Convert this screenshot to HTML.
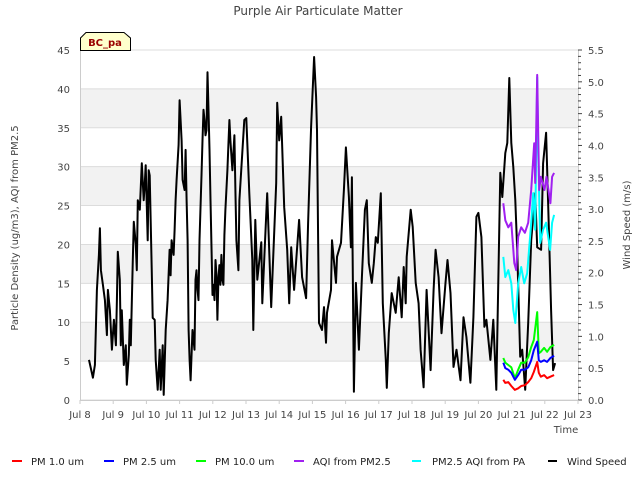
<!DOCTYPE html>
<html><head><meta charset="utf-8"><style>
body{margin:0;background:#fff;}
svg{font-family:"DejaVu Sans","Liberation Sans",sans-serif;}
</style></head><body>
<svg id="chart" width="640" height="480" xmlns="http://www.w3.org/2000/svg"></svg>
<script>
// Data (days since Jul 8 00:00)
const windTimes=[.27,.39,.45,.51,.57,.60,.63,.69,.75,.81,.84,.90,.96,1.02,1.08,1.11,1.14,1.20,1.23,1.26,1.32,1.38,1.41,1.47,1.50,1.53,1.59,1.62,1.68,1.71,1.74,1.80,1.86,1.92,1.95,1.98,2.04,2.07,2.10,2.16,2.19,2.25,2.28,2.34,2.40,2.43,2.49,2.52,2.58,2.64,2.70,2.73,2.76,2.82,2.85,2.88,2.91,2.97,3.00,3.03,3.06,3.09,3.15,3.18,3.21,3.24,3.27,3.30,3.33,3.39,3.45,3.48,3.51,3.54,3.57,3.60,3.66,3.69,3.72,3.75,3.78,3.81,3.84,3.87,3.90,3.93,3.99,4.02,4.05,4.08,4.11,4.14,4.17,4.20,4.23,4.26,4.29,4.32,4.35,4.38,4.41,4.44,4.47,4.50,4.53,4.59,4.65,4.68,4.71,4.77,4.80,4.95,5.01,5.04,5.10,5.19,5.22,5.28,5.34,5.46,5.49,5.61,5.64,5.76,5.91,5.94,6.00,6.06,6.15,6.24,6.30,6.36,6.45,6.60,6.69,6.81,6.87,6.96,7.05,7.11,7.14,7.20,7.29,7.35,7.41,7.44,7.56,7.59,7.71,7.74,7.86,7.95,8.01,8.10,8.16,8.19,8.25,8.31,8.40,8.49,8.58,8.64,8.70,8.79,8.85,8.91,8.97,9.06,9.12,9.21,9.24,9.30,9.39,9.51,9.60,9.69,9.75,9.81,9.84,9.96,10.02,10.11,10.20,10.26,10.35,10.44,10.56,10.65,10.71,10.80,10.89,11.01,11.07,11.16,11.25,11.34,11.46,11.55,11.64,11.76,11.85,11.94,12.00,12.09,12.18,12.24,12.36,12.45,12.54,12.66,12.72,12.81,12.87,12.93,12.99,13.05,13.11,13.17,13.26,13.32,13.41,13.50,13.59,13.71,13.77,13.89,13.95,14.04,14.13,14.19,14.25,14.31];
const windSpeed=[.63,.35,.55,1.73,2.28,2.70,2.04,1.81,1.57,1.02,1.73,1.41,.79,1.26,.86,1.57,2.33,1.89,.86,1.41,.55,.86,.24,.71,1.26,.86,2.20,2.80,2.44,2.04,3.14,2.99,3.72,3.14,3.38,3.69,2.51,3.61,3.53,2.07,1.29,1.26,.63,.16,.79,.16,.86,.08,1.10,1.57,2.36,1.96,2.51,2.28,2.67,3.14,3.46,4.01,4.71,4.40,4.08,3.46,3.30,3.93,3.14,2.51,1.10,.63,.31,1.10,.79,1.89,2.04,1.73,1.57,2.51,3.53,4.08,4.56,4.40,4.16,4.24,5.15,4.56,3.93,3.14,1.65,1.81,1.57,2.20,1.96,1.26,1.89,2.12,1.81,2.28,1.89,1.81,2.59,2.99,3.30,3.61,4.01,4.40,4.08,3.61,4.16,3.30,2.51,2.04,3.14,4.40,4.43,4.04,3.25,2.20,1.10,2.83,1.89,2.48,1.52,2.94,3.25,1.46,3.41,4.67,4.08,4.45,3.03,2.36,1.52,2.40,1.73,2.83,1.93,1.60,2.78,4.29,5.39,4.76,4.24,1.21,1.10,1.46,.90,1.37,1.73,2.51,1.84,2.25,2.47,3.30,3.97,3.19,2.40,3.50,.13,1.84,.79,1.93,2.99,3.14,2.15,1.84,2.15,2.56,2.47,3.25,1.52,.63,.19,1.05,1.68,1.37,1.93,1.30,2.09,1.52,2.25,2.99,2.72,1.84,1.52,.79,.20,1.73,.47,1.73,2.36,1.93,1.05,1.84,2.20,1.68,.52,.79,.31,1.30,.99,.27,1.30,2.88,2.94,2.56,1.15,1.26,.63,1.26,.16,3.57,3.19,3.88,4.04,5.06,4.04,3.66,3.14,2.36,.68,.79,.16,1.21,2.51,3.25,2.40,2.36,3.72,4.20,2.56,1.41,.47,.58];
const pmTimes=[12.75,12.81,12.90,12.99,13.10,13.20,13.29,13.40,13.50,13.59,13.67,13.77,13.82,13.88,13.98,14.07,14.17,14.28];
const pm10=[5.4,4.8,4.5,4.2,2.8,3.9,4.8,4.8,5.5,6.8,7.7,11.3,6.0,6.2,6.7,6.2,6.8,7.1];
const pm25=[4.8,4.1,3.9,3.5,2.6,3.2,3.9,3.9,4.2,5.1,6.4,7.5,5.1,4.9,5.1,4.9,5.4,5.7];
const pm1=[2.6,2.2,2.3,1.8,1.3,1.5,1.8,1.9,2.3,2.8,3.6,4.9,3.5,3.0,3.2,2.8,3.0,3.2];
const aqiTimes=[12.75,12.81,12.90,12.99,13.08,13.14,13.20,13.29,13.40,13.50,13.59,13.68,13.71,13.77,13.83,13.88,13.99,14.05,14.17,14.22,14.28];
const aqiPM25=[25.3,23.1,22.2,22.8,17.6,16.7,21.0,22.2,21.5,22.8,27.0,33.0,27.9,41.8,27.0,28.7,27.0,28.7,25.3,28.7,29.2];
const paTimes=[12.75,12.81,12.90,12.99,13.05,13.11,13.20,13.29,13.38,13.47,13.59,13.65,13.71,13.77,13.80,13.86,13.95,14.04,14.16,14.22,14.28];
const paAQI=[18.4,15.8,16.7,15.0,11.6,9.9,15.0,17.1,15.0,16.3,22.8,26.6,21.9,41.5,32.1,20.2,21.9,22.8,19.3,22.8,23.8];
const xTickLabels=["Jul 8","Jul 9","Jul 10","Jul 11","Jul 12","Jul 13","Jul 14","Jul 15","Jul 16","Jul 17","Jul 18","Jul 19","Jul 20","Jul 21","Jul 22","Jul 23"];
const yTicks=[0,5,10,15,20,25,30,35,40,45];
const y2Ticks=["0.0","0.5","1.0","1.5","2.0","2.5","3.0","3.5","4.0","4.5","5.0","5.5"];

const L=80,R=578,T=50,B=400;
const X=d=>L+d*(R-L)/15;
const Y=v=>B-v*(B-T)/45;
const Y2=v=>B-v*(B-T)/5.5;
const svg=document.getElementById('chart');
const NS="http://www.w3.org/2000/svg";
function mk(tag,attrs,parent){const e=document.createElementNS(NS,tag);for(const k in attrs)e.setAttribute(k,attrs[k]);(parent||svg).appendChild(e);return e;}
function txt(s,attrs){const e=mk('text',attrs);e.textContent=s;return e;}

for(let i=0;i<9;i++){
  if(i%2===1){const r=mk('rect',{x:L,y:Y(i*5+5),width:R-L,height:Y(i*5)-Y(i*5+5),fill:'#f2f2f2'});
  
  }
}
yTicks.forEach(v=>{const g=mk('line',{x1:L,x2:R,y1:Y(v),y2:Y(v),stroke:'#dcdcdc','stroke-width':1});


const t=txt(String(v),{x:L-10,y:Y(v)+4,'text-anchor':'end','font-size':10,fill:'#444'});

});
mk('line',{x1:L+0.5,x2:L+0.5,y1:T,y2:B,stroke:'#ccc'});
mk('line',{x1:R+0.5,x2:R+0.5,y1:T,y2:B,stroke:'#ccc'});
mk('line',{x1:L,x2:R,y1:B+0.5,y2:B+0.5,stroke:'#ccc'});
for(let i=0;i<=55;i++){const v=i/10;mk('line',{x1:R,x2:R+(i%5===0?4:3),y1:Y2(v),y2:Y2(v),stroke:'#444','stroke-width':1});}
y2Ticks.forEach(s=>{const t=txt(s,{x:R+10,y:Y2(parseFloat(s))+4,'font-size':10,fill:'#444'});

});
xTickLabels.forEach((s,i)=>{const t=txt(s,{x:X(i),y:B+18,'text-anchor':'middle','font-size':10,fill:'#444'});


mk('line',{x1:X(i),x2:X(i),y1:B,y2:B+4,stroke:'#ccc'});});

function line(ts,vs,yf,color,w,name){
  const d=ts.map((t,i)=>(i?'L':'M')+X(t).toFixed(1)+','+yf(vs[i]).toFixed(1)).join('');
  const p=mk('path',{d:d,fill:'none',stroke:color,'stroke-width':w,'stroke-linejoin':'round'});
  
  
}
line(windTimes,windSpeed,Y2,'#000',2,'wind-speed-line');
line(paTimes,paAQI,Y,'#00ffff',2,'pa-aqi-line');
line(aqiTimes,aqiPM25,Y,'#a020f0',2,'aqi-pm25-line');
line(pmTimes,pm10,Y,'#00ff00',2,'pm10-line');
line(pmTimes,pm25,Y,'#0000ff',2,'pm25-line');
line(pmTimes,pm1,Y,'#ff0000',2,'pm1-line');
</script>
<svg width="640" height="480" style="position:absolute;left:0;top:0" xmlns="http://www.w3.org/2000/svg" font-family="DejaVu Sans, Liberation Sans, sans-serif">
<text x="318" y="15" text-anchor="middle" font-size="12" fill="#444">Purple Air Particulate Matter</text>
<text x="18" y="228" text-anchor="middle" font-size="10" fill="#444" transform="rotate(-90 18 228)">Particle Density (ug/m3), AQI from PM2.5</text>
<text x="630" y="225" text-anchor="middle" font-size="10" fill="#444" transform="rotate(-90 630 225)">Wind Speed (m/s)</text>
<text x="566" y="433" text-anchor="middle" font-size="10" fill="#444">Time</text>
<g>
<path d="M80.5,50.5 L80.5,38 L86,32.5 L124,32.5 L130.5,38 L130.5,50.5 Z" fill="#ffffcc" stroke="#000" stroke-width="1"/>
<text x="105" y="46" text-anchor="middle" font-size="10" font-weight="bold" fill="#990000">BC_pa</text>
</g>
<g font-size="10" fill="#222">
<g><line x1="12" x2="22" y1="461" y2="461" stroke="#f00" stroke-width="2"/><text x="31" y="465">PM 1.0 um</text></g>
<g><line x1="104" x2="114" y1="461" y2="461" stroke="#00f" stroke-width="2"/><text x="123" y="465">PM 2.5 um</text></g>
<g><line x1="196" x2="206" y1="461" y2="461" stroke="#0f0" stroke-width="2"/><text x="215" y="465">PM 10.0 um</text></g>
<g><line x1="294" x2="304" y1="461" y2="461" stroke="#a020f0" stroke-width="2"/><text x="313" y="465">AQI from PM2.5</text></g>
<g><line x1="412" x2="421" y1="461" y2="461" stroke="#0ff" stroke-width="2"/><text x="432" y="465">PM2.5 AQI from PA</text></g>
<g><line x1="548" x2="557" y1="461" y2="461" stroke="#000" stroke-width="2"/><text x="567" y="465">Wind Speed</text></g>
</g>
</svg>
</body></html>
